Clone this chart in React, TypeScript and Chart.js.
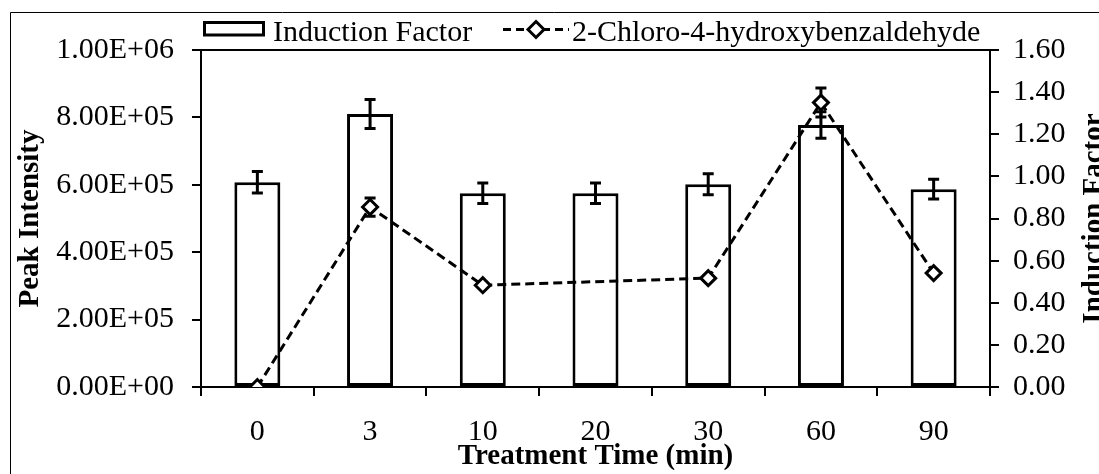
import React, { useEffect, useRef } from 'react';
import { Chart, registerables } from 'chart.js';

Chart.register(...registerables);

const SERIF = "'Liberation Serif', 'Times New Roman', Times, serif";

// ---- data ----
const categories = ['0', '3', '10', '20', '30', '60', '90'];
const inductionFactor = [0.972, 1.296, 0.92, 0.92, 0.963, 1.244, 0.939];
const inductionFactorError = [0.051, 0.069, 0.049, 0.049, 0.05, 0.063, 0.047];
const peakIntensity: (number | null)[] = [0, 534000, 302000, null, 323000, 844000, 338000];
const peakIntensityError = [0, 27000, 0, 0, 0, 43000, 0];
const seriesLabels = ['Induction Factor', '2-Chloro-4-hydroxybenzaldehyde'];
const xTitle = 'Treatment Time (min)';
const leftTitle = 'Peak Intensity';
const rightTitle = 'Induction Factor';
const leftRange = [0, 1000000, 200000];
const rightRange = [0, 1.6, 0.2];

function sci(v: number): string {
  const [m, e] = v.toExponential(2).split('e');
  const sign = e[0];
  const digits = e.slice(1).padStart(2, '0');
  return m + 'E' + sign + digits;
}

function drawErrors(chart: any, idx: number, errs: number[]) {
  const ds = chart.data.datasets[idx];
  const meta = chart.getDatasetMeta(idx);
  const scale = chart.scales[ds.yAxisID];
  const ctx = chart.ctx;
  ctx.save();
  ctx.strokeStyle = '#000';
  ctx.lineWidth = 3;
  meta.data.forEach((el: any, i: number) => {
    const v = ds.data[i];
    const e = errs[i];
    if (v == null || !e) return;
    const x = el.x;
    const yT = scale.getPixelForValue(v + e);
    const yB = scale.getPixelForValue(v - e);
    ctx.beginPath();
    ctx.moveTo(x, yT);
    ctx.lineTo(x, yB);
    ctx.moveTo(x - 5.5, yT);
    ctx.lineTo(x + 5.5, yT);
    ctx.moveTo(x - 5.5, yB);
    ctx.lineTo(x + 5.5, yB);
    ctx.stroke();
  });
  ctx.restore();
}

function drawDiamond(ctx: CanvasRenderingContext2D, x: number, y: number, r: number) {
  ctx.beginPath();
  ctx.moveTo(x, y - r);
  ctx.lineTo(x + r, y);
  ctx.lineTo(x, y + r);
  ctx.lineTo(x - r, y);
  ctx.closePath();
  ctx.fillStyle = '#fff';
  ctx.fill();
  ctx.stroke();
}

const errorBarPlugin = {
  id: 'errorBars',
  afterDatasetDraw(chart: any, args: any) {
    if (args.index === 0) drawErrors(chart, 0, inductionFactorError);
  },
  beforeDatasetDraw(chart: any, args: any) {
    if (args.index === 1) drawErrors(chart, 1, peakIntensityError);
  },
};

const decorPlugin = {
  id: 'decor',
  beforeDraw(chart: any) {
    const { ctx, width, height } = chart;
    ctx.save();
    ctx.fillStyle = '#fff';
    ctx.fillRect(0, 0, width, height);
    ctx.strokeStyle = '#000';
    ctx.lineWidth = 1;
    ctx.beginPath();
    ctx.moveTo(10.5, height);
    ctx.lineTo(10.5, 12.5);
    ctx.lineTo(width, 12.5);
    ctx.stroke();
    ctx.restore();
  },
  afterDraw(chart: any) {
    const { ctx, chartArea } = chart;
    ctx.save();
    // plot top border
    ctx.strokeStyle = '#000';
    ctx.lineWidth = 2;
    ctx.beginPath();
    ctx.moveTo(chartArea.left - 1, chartArea.top);
    ctx.lineTo(chartArea.right + 1, chartArea.top);
    ctx.stroke();

    // right axis title (reads bottom to top)
    ctx.save();
    ctx.font = `bold 29px ${SERIF}`;
    ctx.fillStyle = '#000';
    ctx.textAlign = 'center';
    ctx.textBaseline = 'middle';
    ctx.translate(1094.5, (chartArea.top + chartArea.bottom) / 2);
    ctx.rotate(-Math.PI / 2);
    ctx.fillText(rightTitle, 0, 0);
    ctx.restore();

    // legend
    const labels = chart.data.datasets.map((d: any) => d.label);
    ctx.font = `30px ${SERIF}`;
    ctx.textAlign = 'left';
    ctx.textBaseline = 'alphabetic';
    // bar swatch
    ctx.lineWidth = 3;
    ctx.strokeStyle = '#000';
    ctx.fillStyle = '#fff';
    ctx.fillRect(204.5, 22.5, 59, 12.5);
    ctx.strokeRect(204.5, 22.5, 59, 12.5);
    ctx.fillStyle = '#000';
    ctx.fillText(labels[0], 273, 41);
    // line swatch
    ctx.save();
    ctx.setLineDash([8, 5]);
    ctx.lineWidth = 3;
    ctx.beginPath();
    ctx.moveTo(503, 29.5);
    ctx.lineTo(569, 29.5);
    ctx.stroke();
    ctx.restore();
    ctx.lineWidth = 3;
    drawDiamond(ctx, 536, 29.5, 8);
    ctx.fillStyle = '#000';
    ctx.fillText(labels[1], 572, 41);
    ctx.restore();
  },
};

export default function App() {
  const ref = useRef<HTMLCanvasElement | null>(null);

  useEffect(() => {
    document.body.style.margin = '0';
    const canvas = ref.current;
    if (!canvas) return;
    Chart.defaults.font.family = SERIF;
    Chart.defaults.color = '#000';

    const chart = new Chart(canvas, {
      type: 'bar',
      data: {
        labels: categories,
        datasets: [
          {
            type: 'bar',
            label: seriesLabels[0],
            data: inductionFactor,
            yAxisID: 'y1',
            backgroundColor: '#ffffff',
            borderColor: '#000000',
            borderWidth: 3,
            borderSkipped: false,
            barPercentage: 0.408,
            categoryPercentage: 1,
            order: 2,
          } as any,
          {
            type: 'line',
            label: seriesLabels[1],
            data: peakIntensity,
            yAxisID: 'y',
            borderColor: '#000000',
            borderWidth: 3,
            borderDash: [9, 5],
            spanGaps: true,
            tension: 0,
            fill: false,
            pointStyle: 'rectRot',
            pointRadius: 7.5,
            pointBorderWidth: 3,
            pointBackgroundColor: '#ffffff',
            pointBorderColor: '#000000',
            order: 1,
          } as any,
        ],
      },
      options: {
        responsive: false,
        animation: false,
        devicePixelRatio: 1,
        layout: { padding: { top: 50, left: 0, right: 0, bottom: 0 } },
        plugins: {
          legend: { display: false },
          tooltip: { enabled: false },
          title: { display: false },
        },
        scales: {
          x: {
            type: 'category',
            offset: true,
            grid: {
              offset: true,
              drawOnChartArea: false,
              drawTicks: true,
              tickLength: 9,
              color: '#000',
              lineWidth: 2,
            },
            border: { display: true, color: '#000', width: 2 },
            ticks: {
              font: { size: 30, family: SERIF },
              color: '#000',
              padding: 18,
              maxRotation: 0,
              minRotation: 0,
              autoSkip: false,
            },
            title: {
              display: true,
              text: xTitle,
              font: { size: 29, weight: 'bold', family: SERIF },
              color: '#000',
              padding: { top: 0, bottom: 0 },
            },
            afterFit: (s: any) => {
              s.height = 87;
            },
          },
          y: {
            type: 'linear',
            position: 'left',
            min: leftRange[0],
            max: leftRange[1],
            grid: {
              drawOnChartArea: false,
              drawTicks: true,
              tickLength: 9,
              color: '#000',
              lineWidth: 2,
            },
            border: { display: true, color: '#000', width: 2 },
            ticks: {
              stepSize: leftRange[2],
              font: { size: 30, family: SERIF },
              color: '#000',
              padding: 18,
              autoSkip: false,
              callback: (v: any) => sci(Number(v)),
            },
            title: {
              display: true,
              text: leftTitle,
              font: { size: 29, weight: 'bold', family: SERIF },
              color: '#000',
              padding: { top: 13, bottom: 0 },
            },
            afterFit: (s: any) => {
              s.width = 201;
            },
          },
          y1: {
            type: 'linear',
            position: 'right',
            min: rightRange[0],
            max: rightRange[1],
            grid: {
              drawOnChartArea: false,
              drawTicks: true,
              tickLength: 9,
              color: '#000',
              lineWidth: 2,
            },
            border: { display: true, color: '#000', width: 2 },
            ticks: {
              stepSize: rightRange[2],
              font: { size: 30, family: SERIF },
              color: '#000',
              padding: 14,
              autoSkip: false,
              callback: (v: any) => Number(v).toFixed(2),
            },
            afterFit: (s: any) => {
              s.width = 109;
            },
          },
        },
      } as any,
      plugins: [decorPlugin, errorBarPlugin],
    });

    return () => {
      chart.destroy();
    };
  }, []);

  return (
    <div style={{ width: 1099, height: 474 }}>
      <canvas ref={ref} width={1099} height={474} style={{ display: 'block' }} />
    </div>
  );
}
